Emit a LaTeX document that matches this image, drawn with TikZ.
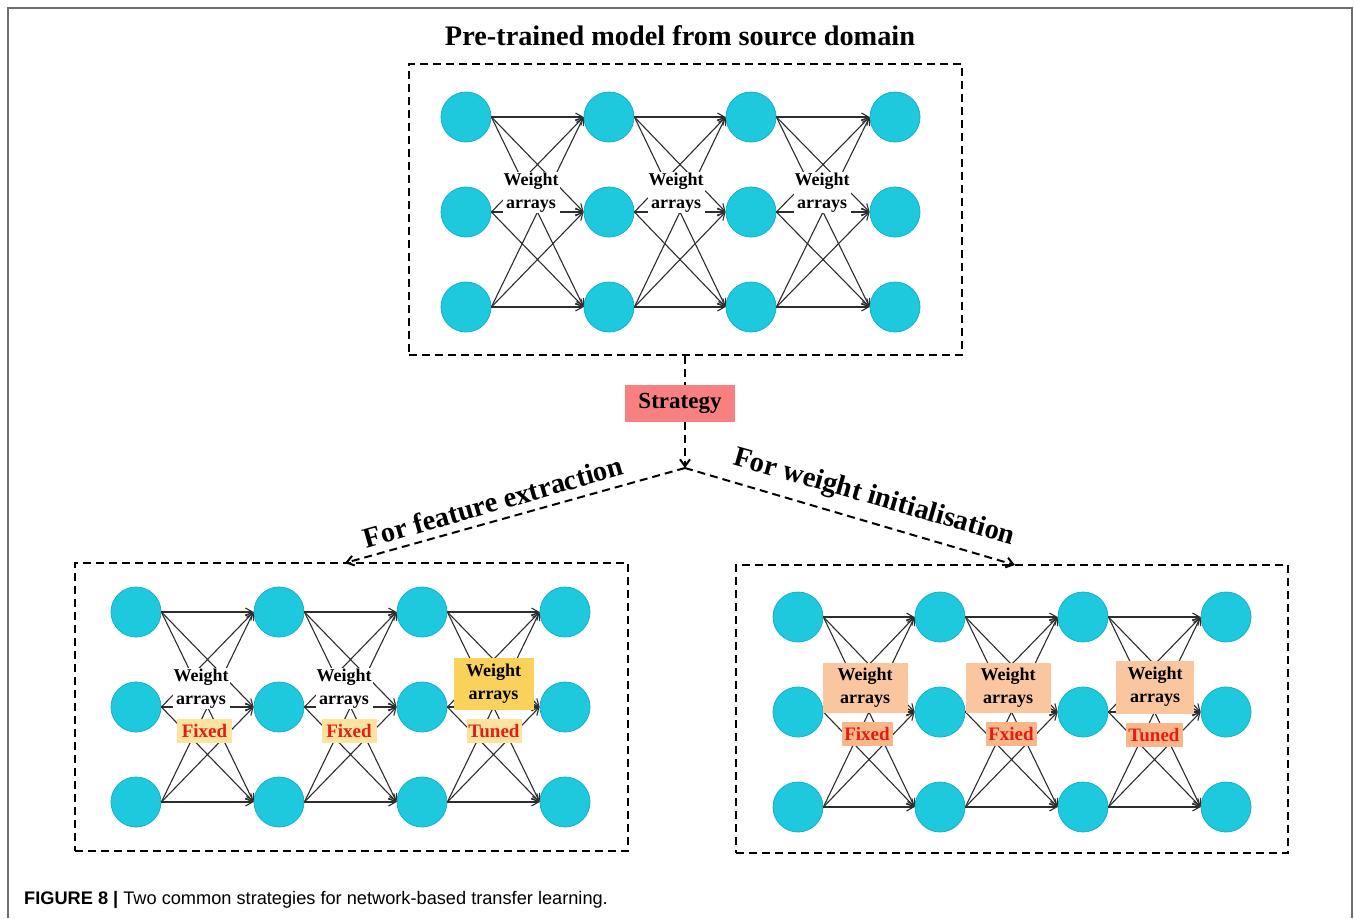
\documentclass[tikz,border=0pt]{standalone}
\usepackage{fontspec}
\setmainfont{Liberation Serif}
\setsansfont{Liberation Sans}
\usetikzlibrary{arrows.meta}
\definecolor{neu}{RGB}{30,201,222}
\definecolor{neuD}{RGB}{22,176,200}
\definecolor{edgeC}{RGB}{45,45,45}
\definecolor{stratC}{RGB}{248,128,128}
\definecolor{redT}{RGB}{226,30,18}
\definecolor{lightY}{RGB}{253,226,160}
\definecolor{yellowB}{RGB}{249,210,92}
\definecolor{peachB}{RGB}{250,198,160}
\definecolor{peachF}{RGB}{249,182,136}
\definecolor{frameC}{RGB}{110,110,110}
\tikzset{
  neuron/.style={circle, minimum size=50pt, inner sep=0pt, fill=neu, draw=neuD, line width=0.8pt},
  wedge/.style={draw=edgeC, line width=1.1pt, -{Straight Barb[length=7pt,width=8pt]}},
  dbox/.style={draw=black, line width=2pt, dash pattern=on 8pt off 5pt, inner sep=0pt},
  dconn/.style={draw=black, line width=2pt, dash pattern=on 8pt off 5pt},
  wlabel/.style={fill=white, inner sep=1pt, align=center, font=\bfseries\fontsize{18}{23}\selectfont},
  wbox/.style={inner sep=0pt, align=center, minimum width=80pt, minimum height=50pt, font=\bfseries\fontsize{18}{23}\selectfont},
  tagbox/.style={inner sep=0pt, minimum width=55pt, minimum height=24pt, text=redT, font=\bfseries\fontsize{19}{22}\selectfont},
  bigtxt/.style={font=\bfseries\fontsize{28.5}{30}\selectfont, inner sep=0pt},
  frameline/.style={draw=frameC, line width=1.5pt}
}
\begin{document}
\begin{tikzpicture}[x=1pt,y=-1pt]
\useasboundingbox (0,0) rectangle (1354,918);
\draw[frameline] (8,918) -- (8,8) -- (1352,8) -- (1352,918);

% ---------- top panel ----------
\node[inner sep=0pt, font=\bfseries\fontsize{28.3}{30}\selectfont] (title) at (680,36) {Pre-trained model from source domain};
\node[dbox, minimum width=553pt, minimum height=291pt] (topbox) at (685.5,209.5) {};
\foreach \c/\x in {1/466,2/609,3/751,4/895}
  \foreach \r/\y in {1/117,2/212,3/307}
    \node[neuron] (T\c\r) at (\x,\y) {};
\foreach \c/\d in {1/2,2/3,3/4}
  \foreach \r in {1,2,3}
    \foreach \s in {1,2,3}
      \draw[wedge] (T\c\r.east) -- (T\d\s.west);
\node[wlabel] (TW1) at (531,192.5) {Weight\\arrays};
\node[wlabel] (TW2) at (676,192.5) {Weight\\arrays};
\node[wlabel] (TW3) at (822,192.5) {Weight\\arrays};

% ---------- strategy ----------
\node[fill=stratC, minimum width=110pt, minimum height=37pt, inner sep=0pt,
      font=\bfseries\fontsize{23}{25}\selectfont] (strat) at (680,403.5) {Strategy};
\coordinate (J) at (685,468);
\coordinate (LA) at (345,563);
\coordinate (RA) at (1015,565);
\draw[dconn] (topbox.south -| J) -- (J |- strat.north);
\draw[dconn, -{Straight Barb[length=7pt,width=10pt]}] (J |- strat.south) -- (J);
\draw[dconn, -{Straight Barb[length=7pt,width=10pt]}] (J) -- (LA);
\draw[dconn, -{Straight Barb[length=7pt,width=10pt]}] (J) -- (RA);
\node[bigtxt, rotate=16] (lfe) at (493,502) {For feature extraction};
\node[bigtxt, rotate=-16] (lwi) at (874,498) {For weight initialisation};

% ---------- bottom-left panel ----------
\node[dbox, minimum width=553pt, minimum height=288pt] (lbox) at (351.5,707) {};
\foreach \c/\x in {1/136,2/279,3/422,4/565}
  \foreach \r/\y in {1/612,2/707,3/802}
    \node[neuron] (L\c\r) at (\x,\y) {};
\foreach \c/\d in {1/2,2/3,3/4}
  \foreach \r in {1,2,3}
    \foreach \s in {1,2,3}
      \draw[wedge] (L\c\r.east) -- (L\d\s.west);
\node[wlabel] (LW1) at (201,688.5) {Weight\\arrays};
\node[wlabel] (LW2) at (344,688.5) {Weight\\arrays};
\node[wbox, fill=yellowB, minimum height=52pt] (LW3) at (493.5,683.5) {Weight\\arrays};
\node[tagbox, fill=lightY] (LF1) at (204.5,731) {Fixed};
\node[tagbox, fill=lightY] (LF2) at (349,731) {Fixed};
\node[tagbox, fill=lightY] (LF3) at (494,731) {Tuned};

% ---------- bottom-right panel ----------
\node[dbox, minimum width=552pt, minimum height=288pt] (rbox) at (1012,709) {};
\foreach \c/\x in {1/798,2/940,3/1083,4/1226}
  \foreach \r/\y in {1/617,2/712,3/807}
    \node[neuron] (R\c\r) at (\x,\y) {};
\foreach \c/\d in {1/2,2/3,3/4}
  \foreach \r in {1,2,3}
    \foreach \s in {1,2,3}
      \draw[wedge] (R\c\r.east) -- (R\d\s.west);
\node[wbox, fill=peachB, minimum width=85pt] (RW1) at (865,688) {Weight\\arrays};
\node[wbox, fill=peachB, minimum width=85pt] (RW2) at (1008,688) {Weight\\arrays};
\node[wbox, fill=peachB, minimum width=78pt, minimum height=53pt] (RW3) at (1155,687) {Weight\\arrays};
\node[tagbox, fill=peachF, minimum width=51pt] (RF1) at (867,734) {Fixed};
\node[tagbox, fill=peachF, minimum width=51pt] (RF2) at (1011,734) {Fxied};
\node[tagbox, fill=peachF, minimum width=57pt] (RF3) at (1154,735) {Tuned};

% ---------- caption ----------
\node[anchor=west, inner sep=0pt, font=\sffamily\fontsize{18.2}{20}\selectfont] (cap) at (24,900)
  {\textbf{FIGURE 8 |} Two common strategies for network-based transfer learning.};
\end{tikzpicture}
\end{document}
